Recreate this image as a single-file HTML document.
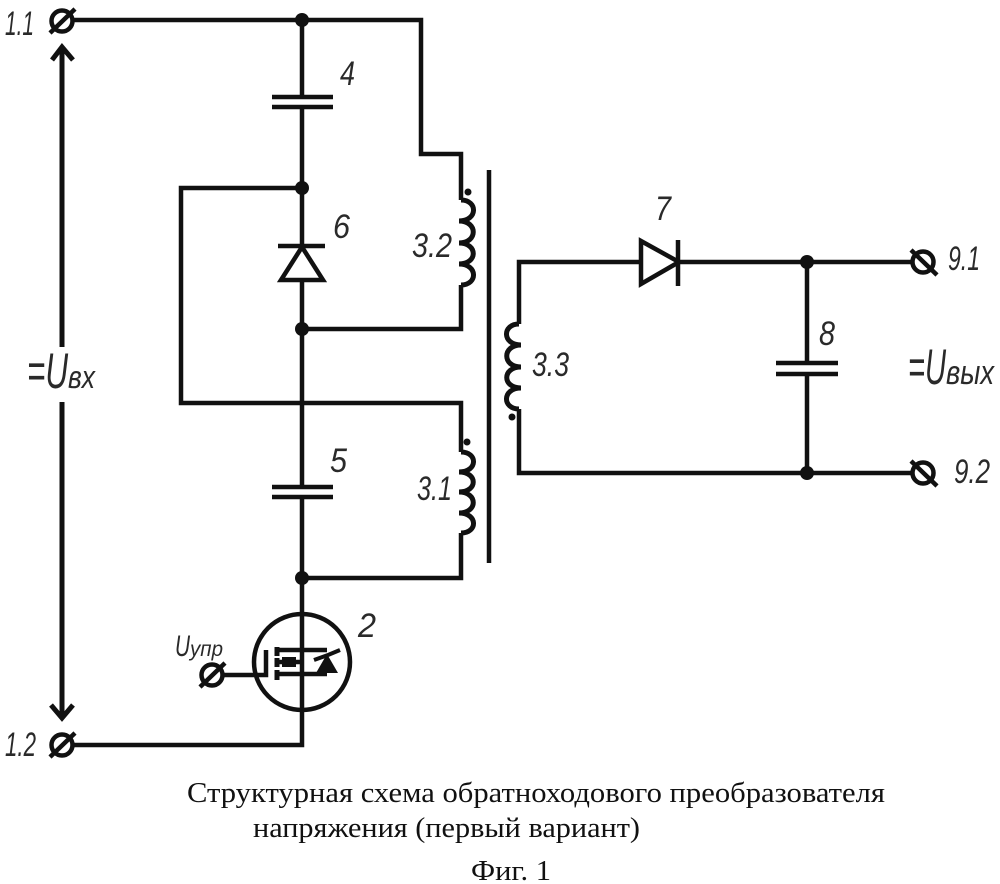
<!DOCTYPE html>
<html>
<head>
<meta charset="utf-8">
<style>
html,body{margin:0;padding:0;background:#fff;}
svg{display:block;}
.w{fill:none;stroke:#111;stroke-width:4.5;stroke-linejoin:miter;stroke-linecap:butt;}
.l{font-family:"Liberation Sans",sans-serif;font-style:italic;fill:#2a2a2a;stroke:none;}
.c{font-family:"Liberation Serif",serif;fill:#111;font-size:28px;}
</style>
</head>
<body>
<svg width="1000" height="884" viewBox="0 0 1000 884" xmlns="http://www.w3.org/2000/svg">
<rect width="1000" height="884" fill="#fff"/>

<!-- Left circuit wires -->
<path class="w" d="M73 20H421V154H461V200"/>
<path class="w" d="M461 285V329H302"/>
<path class="w" d="M302 20V97"/>
<path class="w" d="M302 107V246"/>
<path class="w" d="M302 280V487"/>
<path class="w" d="M302 497V745H73"/>
<path class="w" d="M302 188H181V403H461V452"/>
<path class="w" d="M461 533V578H302"/>

<!-- Capacitors -->
<path class="w" d="M272 97H333M272 107H333"/>
<path class="w" d="M272 487H333M272 497H333"/>
<path class="w" d="M776 363H838M776 374H838"/>

<!-- Diode 6 -->
<path class="w" d="M278 246H325"/>
<path class="w" d="M302 247L323 280H281Z"/>

<!-- Coils -->
<path class="w" style="stroke-width:5" d="M461 200C478 200 478 221 459 221C478 221 478 243 459 243C478 243 478 264 459 264C478 264 478 285 461 285"/>
<path class="w" style="stroke-width:5" d="M461 452C478 452 478 472 459 472C478 472 478 492 459 492C478 492 478 513 459 513C478 513 478 533 461 533"/>
<path class="w" style="stroke-width:5" d="M519 324C502 324 502 345 521 345C502 345 502 367 521 367C502 367 502 388 521 388C502 388 502 409 519 409"/>

<!-- Core -->
<path class="w" d="M489 170V563"/>

<!-- Secondary -->
<path class="w" d="M519 324V262H641"/>
<path class="w" d="M519 409V473H912"/>
<path class="w" d="M678 262H912"/>
<path class="w" d="M807 262V363"/>
<path class="w" d="M807 374V473"/>
<path class="w" d="M641 241L679 262L641 284Z"/>
<path class="w" d="M678 240V286"/>

<!-- Nodes and dots -->
<g fill="#111">
<circle cx="302" cy="20" r="7"/>
<circle cx="302" cy="188" r="7"/>
<circle cx="302" cy="329" r="7"/>
<circle cx="302" cy="578" r="7"/>
<circle cx="807" cy="262" r="7"/>
<circle cx="807" cy="473" r="7"/>
<circle cx="468" cy="192" r="3.5"/>
<circle cx="467" cy="442" r="3.5"/>
<circle cx="512" cy="417" r="3.5"/>
</g>

<!-- Terminals -->
<g class="w">
<circle cx="62" cy="21" r="10.5"/><path d="M50 33L75 9"/>
<circle cx="62" cy="745" r="10.5"/><path d="M50 757L75 733"/>
<circle cx="212" cy="675" r="10.5"/><path d="M200 687L225 663"/>
<circle cx="923" cy="262" r="10.5"/><path d="M911 250L937 275"/>
<circle cx="923" cy="473" r="10.5"/><path d="M911 461L937 486"/>
</g>

<!-- Input voltage arrow -->
<path class="w" style="stroke-width:5" d="M62 48V347M62 402V717"/>
<path class="w" style="stroke-width:5" d="M52 60L62 47L73 60"/>
<path class="w" style="stroke-width:5" d="M51 705L62 718L73 705"/>

<!-- Transistor -->
<circle class="w" cx="302" cy="662" r="48"/>
<path class="w" d="M222 675H266V650"/>
<path class="w" style="stroke-width:5" d="M277 647V656M277 658V667M277 670V680"/>
<path class="w" d="M277 650H327M277 674H327M277 662H302"/>
<path d="M282 657H296V667H282Z" fill="#111"/>
<path d="M327 654L316 673H338Z" fill="#111"/>
<path class="w" style="stroke-width:4" d="M314 660L328 655L340 650"/>

<!-- Labels -->
<g class="l" font-size="34">
<text x="5" y="35" textLength="29" lengthAdjust="spacingAndGlyphs">1.1</text>
<text x="5" y="756" textLength="31" lengthAdjust="spacingAndGlyphs">1.2</text>
<text x="340" y="85" textLength="15" lengthAdjust="spacingAndGlyphs">4</text>
<text x="333" y="238" textLength="17" lengthAdjust="spacingAndGlyphs">6</text>
<text x="412" y="257" textLength="40" lengthAdjust="spacingAndGlyphs">3.2</text>
<text x="330" y="472" textLength="17" lengthAdjust="spacingAndGlyphs">5</text>
<text x="417" y="500" textLength="35" lengthAdjust="spacingAndGlyphs">3.1</text>
<text x="358" y="637" textLength="18" lengthAdjust="spacingAndGlyphs">2</text>
<text x="655" y="220" textLength="16" lengthAdjust="spacingAndGlyphs">7</text>
<text x="819" y="345" textLength="16" lengthAdjust="spacingAndGlyphs">8</text>
<text x="532" y="376" textLength="37" lengthAdjust="spacingAndGlyphs">3.3</text>
<text x="948" y="270" textLength="32" lengthAdjust="spacingAndGlyphs">9.1</text>
<text x="954" y="483" textLength="36" lengthAdjust="spacingAndGlyphs">9.2</text>
<text x="27" y="388" font-size="50" textLength="41" lengthAdjust="spacingAndGlyphs">=U</text>
<text x="68" y="388" font-size="32" textLength="27" lengthAdjust="spacingAndGlyphs">вх</text>
<text x="908" y="384" font-size="50" textLength="38" lengthAdjust="spacingAndGlyphs">=U</text>
<text x="946" y="384" font-size="34" textLength="48" lengthAdjust="spacingAndGlyphs">вых</text>
<text x="175" y="656" font-size="30" textLength="15" lengthAdjust="spacingAndGlyphs">U</text>
<text x="190" y="656" font-size="21" textLength="33" lengthAdjust="spacingAndGlyphs">упр</text>
</g>

<!-- Caption -->
<text class="c" x="187" y="802" textLength="698" lengthAdjust="spacingAndGlyphs">Структурная схема обратноходового преобразователя</text>
<text class="c" x="253" y="837" textLength="387" lengthAdjust="spacingAndGlyphs">напряжения (первый вариант)</text>
<text class="c" x="471" y="880" textLength="80" lengthAdjust="spacingAndGlyphs">Фиг. 1</text>
</svg>
</body>
</html>
